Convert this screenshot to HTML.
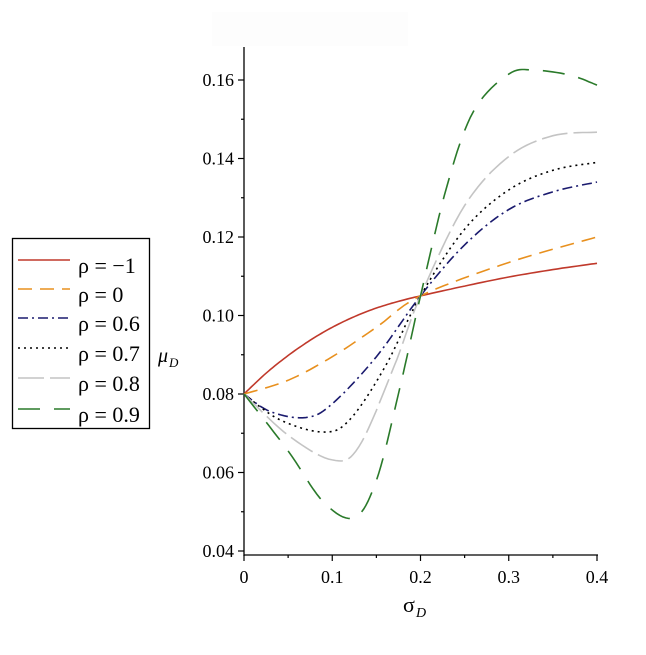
<!DOCTYPE html>
<html><head><meta charset="utf-8"><style>
body{margin:0;background:#fff;}
svg, svg text{font-family:"Liberation Serif","Times New Roman",serif;}
</style></head><body>
<svg id="s" width="646" height="650" xmlns="http://www.w3.org/2000/svg" font-family="Liberation Serif, serif">
<rect x="212" y="12" width="196" height="34" fill="#fdfdfd"/>
<g stroke="#000" stroke-width="1.3" fill="none">
<line x1="244" y1="47" x2="244" y2="556"/>
<line x1="244" y1="555" x2="598" y2="555"/>
</g>
<g id="ticks" stroke="#000" stroke-width="1.2"></g>
<g font-size="18" text-anchor="end" id="ylab" font-family="Liberation Serif, serif"></g>
<g font-size="18" text-anchor="middle" id="xlab" font-family="Liberation Serif, serif"></g>
<g id="curves" fill="none" stroke-width="1.6"></g>
<text x="158" y="362" font-size="20" font-style="italic" font-family="Liberation Serif, serif">μ</text><text x="169" y="367" font-size="13" font-style="italic" font-family="Liberation Serif, serif">D</text>
<text x="403" y="612" font-size="22" font-family="Liberation Serif, serif">σ</text><text x="416" y="617" font-size="14" font-style="italic" font-family="Liberation Serif, serif">D</text>
<rect x="12.5" y="238.5" width="137" height="190" fill="#fff" stroke="#000" stroke-width="1.3"/>
<g font-size="22" id="leg" font-family="Liberation Serif, serif"></g>
</svg>
<script>
const X=v=>244+v*882.5, Y=v=>80+(0.16-v)*3925;
let t='',yl='',xl='';
for(let i=4;i<=16;i++){const y=Y(i/100);const maj=i%2==0;t+=`<line x1="${244-(maj?6:3)}" y1="${y}" x2="244" y2="${y}"/>`;if(maj)yl+=`<text x="234" y="${y+6}">0.${String(i).padStart(2,'0')}</text>`;}
for(let i=0;i<=8;i++){const x=X(i*0.05);t+=`<line x1="${x}" y1="555" x2="${x}" y2="${555+(i%2==0?6:3)}"/>`;if(i%2==0)xl+=`<text x="${x}" y="583">${i==0?'0':'0.'+(i/2)}</text>`;}
document.getElementById('ticks').innerHTML=t;document.getElementById('ylab').innerHTML=yl;document.getElementById('xlab').innerHTML=xl;
function spline(p){let pts=[];for(let i=0;i<p.length-1;i++){const p0=p[Math.max(0,i-1)],p1=p[i],p2=p[i+1],p3=p[Math.min(p.length-1,i+2)];for(let k=0;k<10;k++){const s=k/10,s2=s*s,s3=s2*s;const f=(a,b,c,d)=>0.5*(2*b+(-a+c)*s+(2*a-5*b+4*c-d)*s2+(-a+3*b-3*c+d)*s3);pts.push([f(p0[0],p1[0],p2[0],p3[0]),f(p0[1],p1[1],p2[1],p3[1])]);}}pts.push(p[p.length-1]);return 'M'+pts.map(q=>X(q[0]).toFixed(1)+','+Y(q[1]).toFixed(1)).join(' L');}
const S=[
['#c0392b','',[[0,.08],[.025,.0853],[.05,.0898],[.075,.0937],[.1,.0970],[.125,.0997],[.15,.1019],[.175,.1036],[.2,.105],[.25,.1075],[.3,.1098],[.35,.1117],[.4,.1133]]],
['#e8901e','14 8',[[0,.08],[.05,.0835],[.1,.0895],[.15,.097],[.2,.105],[.3,.1135],[.4,.12]]],
['#1a1a6e','10 4 2 4',[[0,.08],[.03,.0755],[.07,.074],[.1,.0775],[.15,.0895],[.2,.105],[.25,.118],[.3,.127],[.35,.1315],[.4,.134]]],
['#000','2 4',[[0,.08],[.04,.0735],[.09,.0703],[.12,.0735],[.16,.087],[.2,.105],[.25,.122],[.3,.132],[.35,.137],[.4,.139]]],
['#c4c4c4','26 6',[[0,.08],[.05,.0695],[.1,.0632],[.13,.0665],[.17,.087],[.2,.105],[.25,.128],[.3,.1405],[.35,.1458],[.4,.1467]]],
['#2a7a2a','22 14',[[0,.08],[.05,.0655],[.09,.0525],[.125,.0485],[.15,.058],[.175,.08],[.2,.105],[.23,.133],[.26,.152],[.3,.1615],[.33,.1625],[.37,.1612],[.4,.1587]]]];
let c='',lg='';const names=['ρ = −1','ρ = 0','ρ = 0.6','ρ = 0.7','ρ = 0.8','ρ = 0.9'];const ly=[260,289,318,348,378,409];
S.forEach((s,i)=>{c+=`<path d="${spline(s[2])}" stroke="${s[0]}" stroke-dasharray="${s[1]}"/>`;lg+=`<line x1="18" y1="${ly[i]}" x2="70" y2="${ly[i]}" stroke="${s[0]}" stroke-width="1.6" stroke-dasharray="${s[1]}"/><text x="78" y="${ly[i]+13}">${names[i]}</text>`;});
document.getElementById('curves').innerHTML=c;document.getElementById('leg').innerHTML=lg;
</script>
</body></html>
